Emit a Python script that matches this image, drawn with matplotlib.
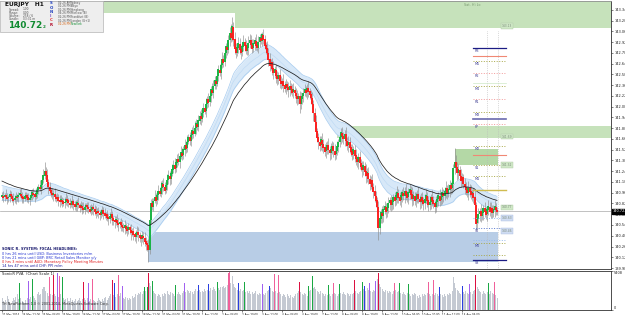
import matplotlib
matplotlib.use('Agg')
import matplotlib.pyplot as plt
from matplotlib.patches import Rectangle
import matplotlib.transforms as mtransforms

# ---------------- DATA ----------------
symbol = "EURJPY"
timeframe = "H1"
base_price = 139.00          # closes below are in 0.01 above base
first_open = 190
wick_unit = 0.015            # price per wick unit

closes = [
    192,190,193,191,189,190,194,192,188,186,189,191,190,193,195,192,190,188,191,193,
    190,187,189,192,196,194,191,195,199,203,201,206,212,218,224,219,210,204,199,196,
    193,195,191,188,190,186,184,187,185,182,184,188,186,183,180,182,185,181,178,180,
    183,180,177,179,176,174,177,180,178,175,172,174,177,175,171,169,172,170,167,170,
    173,169,166,168,164,162,165,168,163,160,158,161,157,155,158,154,152,150,153,149,
    147,151,148,144,146,142,139,143,145,141,138,136,140,137,133,130,128,122,160,182,
    178,185,190,186,193,198,195,202,208,204,199,206,212,218,214,221,226,232,228,235,
    240,236,243,248,245,252,258,254,262,268,264,271,277,273,280,286,282,290,296,292,
    300,306,302,311,318,314,322,330,326,335,342,338,348,356,352,362,370,366,378,386,
    382,395,404,398,412,396,384,378,385,390,383,379,386,392,388,381,385,391,395,389,
    384,390,394,388,385,392,398,394,402,396,388,384,378,370,362,366,358,352,356,348,
    344,349,342,338,341,336,332,337,334,330,335,331,327,330,326,322,318,322,312,318,
    322,326,330,327,332,328,324,320,312,300,288,276,268,262,258,265,260,255,250,254,
    258,252,248,253,257,251,246,250,256,262,268,274,270,266,272,264,258,262,255,250,
    246,252,245,240,236,242,235,230,226,231,224,218,222,214,208,212,204,198,192,186,
    178,150,162,170,166,174,178,172,176,182,186,180,184,190,186,192,196,190,186,192,
    196,192,198,194,190,196,200,194,188,192,186,190,194,188,184,190,186,182,188,192,
    186,180,184,190,186,182,178,184,188,192,186,190,196,192,198,202,196,200,206,202,
    208,228,236,230,222,226,218,212,216,208,204,200,196,202,198,194,196,190,180,156,
    162,168,172,166,170,176,172,168,174,178,172,176,170,174,178,174,172,
]
wick_up = [
    3,4,2,5,3,2,4,3,2,5,3,4,2,3,4,5,3,2,4,3,
    2,4,3,5,3,4,2,5,4,3,6,4,5,6,8,4,5,3,4,2,
    4,3,5,2,4,3,5,4,2,3,4,5,3,2,4,3,5,2,3,4,
    3,5,2,4,3,5,4,2,3,4,3,5,2,4,3,5,3,4,2,3,
    4,3,5,2,4,3,4,5,3,2,4,3,5,4,2,3,4,3,5,2,
    3,4,2,5,3,4,2,3,5,4,3,2,4,3,5,4,3,5,6,4,
    5,3,6,4,3,5,4,6,3,5,4,3,6,5,4,3,5,4,6,3,
    4,5,3,6,4,3,5,4,6,3,5,4,3,5,6,4,3,5,4,6,
    3,5,4,6,3,5,4,3,6,5,4,3,6,4,5,3,6,4,5,3,
    6,4,5,8,9,4,6,5,4,6,5,4,3,6,4,5,4,6,5,4,
    5,4,3,6,4,5,3,4,2,5,4,3,6,4,5,3,4,6,3,5,
    4,3,5,4,3,6,4,5,3,4,5,3,4,6,3,4,5,3,4,6,
    3,4,5,3,4,6,3,4,5,3,4,6,3,4,5,3,6,4,3,5,
    4,6,3,5,4,3,6,4,5,3,4,4,5,3,4,6,3,5,4,3,
    6,3,4,5,3,4,6,3,5,4,3,6,4,5,3,4,6,3,5,4,
    3,5,4,3,6,4,5,3,4,6,3,5,4,3,5,4,6,3,5,4,
    3,5,4,6,3,4,5,3,6,4,3,5,4,6,3,4,5,3,4,6,
    3,4,5,3,6,4,3,5,4,3,6,4,5,3,4,6,3,5,4,3,
    5,4,12,6,4,5,3,6,4,3,5,4,3,6,4,5,3,4,6,3,
    4,5,3,6,4,3,5,4,3,6,4,5,3,4,6,3,2,
]
wick_dn = [
    2,4,3,2,5,3,4,2,3,4,2,5,3,4,2,3,5,4,2,3,
    4,3,5,2,4,3,5,2,4,3,2,4,3,2,3,5,4,6,3,4,
    3,5,4,3,2,5,4,3,5,2,4,3,5,4,3,2,4,5,3,4,
    5,3,4,2,5,3,4,3,5,4,2,3,4,5,3,4,2,5,4,3,
    3,5,2,4,3,5,4,3,6,4,5,3,4,6,3,5,4,3,5,4,
    5,3,4,6,3,5,4,6,3,5,4,6,3,5,4,6,5,11,4,3,
    3,4,2,5,3,4,2,3,5,4,3,2,4,3,5,4,2,3,4,3,
    4,3,5,2,4,3,5,4,3,2,4,5,3,4,2,5,3,4,3,5,
    3,4,2,5,3,4,3,5,2,4,3,5,2,4,3,5,2,4,3,4,
    4,3,5,4,3,6,5,4,3,5,4,6,3,4,5,3,4,6,4,3,
    4,3,5,4,3,5,4,3,5,4,3,5,4,6,5,4,6,5,4,6,
    5,4,6,5,4,6,3,5,4,6,5,4,3,5,4,6,5,4,8,5,
    4,5,3,4,6,5,4,6,5,7,6,5,4,6,5,4,6,5,4,6,
    5,4,6,5,4,6,5,4,3,5,4,6,5,4,6,5,4,6,5,4,
    5,4,6,5,4,6,5,4,6,5,4,6,5,4,6,5,4,6,5,6,
    6,10,5,4,6,5,4,6,5,4,6,5,4,6,5,4,6,5,4,6,
    5,4,6,5,4,6,5,4,6,5,4,6,5,4,6,5,4,6,5,4,
    6,5,4,6,5,4,6,5,4,6,5,4,6,5,4,6,5,4,6,5,
    4,6,5,4,6,5,4,6,5,4,6,5,4,6,5,4,6,5,6,6,
    5,4,6,5,4,6,5,4,6,5,4,6,5,4,6,5,3,
]
# tick volume, percent of panel max
volume_pct = [
    30,22,18,25,35,28,20,15,22,30,26,34,40,28,70,32,24,20,18,26,
    30,75,28,34,80,36,30,26,40,45,38,42,55,60,58,50,44,36,85,40,
    38,90,42,36,95,34,88,40,85,30,26,28,32,24,22,30,26,20,24,28,
    22,26,30,24,28,72,32,26,30,68,24,28,80,26,22,20,24,30,26,22,
    28,24,30,34,26,30,36,40,78,38,70,34,40,90,36,44,62,30,28,34,
    30,26,32,28,36,30,34,40,38,44,40,46,42,50,58,48,60,95,70,62,
    75,50,44,40,36,42,38,34,40,36,44,40,48,42,38,46,44,40,36,65,
    42,46,40,38,44,50,70,46,52,48,44,50,46,42,48,54,50,64,52,46,
    50,46,54,48,52,66,50,56,52,58,54,50,72,56,52,60,58,62,56,60,
    64,95,98,70,88,66,60,56,52,68,50,54,48,52,72,46,50,44,48,42,
    46,40,44,48,42,38,44,40,66,42,38,44,48,52,62,56,50,46,92,48,
    44,90,46,40,36,42,38,34,40,36,32,38,34,30,36,40,44,48,72,46,
    42,38,44,40,36,62,48,52,86,56,60,54,50,46,42,48,44,40,36,42,
    38,64,42,36,40,70,44,40,36,42,66,44,40,46,42,38,44,40,36,42,
    40,44,78,48,44,40,46,50,72,54,62,48,56,52,70,50,46,52,48,74,
    80,95,66,60,54,50,46,52,48,44,50,46,42,48,70,52,46,50,68,44,
    40,46,42,38,44,66,40,36,42,38,44,40,36,32,38,34,40,36,42,38,
    44,72,40,36,42,76,38,44,40,36,58,42,38,34,40,36,42,38,44,40,
    48,85,70,56,52,48,44,40,62,46,42,48,44,40,66,46,42,48,52,90,
    60,54,50,46,42,48,44,40,46,70,42,48,44,40,72,38,30,
]
volume_max = 5408
green_vol_bars = [14, 24, 48, 114, 116, 120, 139, 172, 194, 245, 248, 261, 270, 288, 318, 325, 389]
purple_vol_bars = [21, 44, 69, 96, 146, 208, 294, 299, 374]
pink_vol_bars = [38, 46, 72, 93, 181, 182, 218, 221, 265, 314, 341, 345, 394]
red_vol_bars = [41, 65, 88, 117, 238, 282, 301, 379]
blue_vol_bars = [90, 157, 165, 189, 214, 290, 350, 368]

# moving-average settings and seeds (values just before first bar, price)
dragon_period = 34
trend_period = 50
seed_mid, seed_high, seed_low, seed_trend = 140.96, 141.06, 140.86, 141.12

date_labels = ["21 Mar 2014", "24 Mar 12:00", "25 Mar 04:00", "25 Mar 20:00", "26 Mar 12:00",
               "27 Mar 04:00", "27 Mar 20:00", "28 Mar 12:00", "31 Mar 04:00", "31 Mar 20:00",
               "1 Apr 12:00", "2 Apr 04:00", "2 Apr 20:00", "3 Apr 12:00", "4 Apr 04:00",
               "4 Apr 20:00", "7 Apr 12:00", "8 Apr 04:00", "8 Apr 20:00", "9 Apr 12:00",
               "10 Apr 04:00", "10 Apr 20:00", "11 Apr 12:00", "14 Apr 04:00"]
bars_per_label = 16
price_ticks = [143.340, 143.200, 143.060, 142.920, 142.780, 142.640, 142.500, 142.360, 142.220,
               142.080, 141.940, 141.800, 141.660, 141.520, 141.380, 141.240, 141.100, 140.960,
               140.820, 140.680, 140.540, 140.400, 140.260, 140.120, 139.980]
bid_price = 140.722

# supply / demand zones: start bar, end bar (None = to right edge), top, bottom, kind
zone_start = [81, 186, 268, 362, 117]
zone_end = [None, None, None, 397, 397]
zone_top = [143.50, 143.30, 141.83, 141.53, 140.45]
zone_bot = [143.30, 143.11, 141.67, 141.32, 140.06]
zone_kind = ["supply", "supply", "supply", "supply2", "demand"]

# pivot levels
pivot_price = [142.845, 142.741, 142.676, 142.520, 142.389, 142.350, 142.181, 142.012, 141.921,
               141.855, 141.569, 141.452, 141.321, 141.178, 140.996, 140.631, 140.501, 140.345,
               140.306, 140.149, 140.084]
pivot_name = ["R3", "", "M5", "R2", "", "M4", "R1", "M3", "", "PP", "M2", "", "S1", "M1", "",
              "", "S2", "", "M0", "", "S3"]
pivot_kind = ["main", "hl", "mid", "res", "lt", "mid", "res", "mid", "main2", "res", "mid", "hl",
              "mid", "mid", "khaki", "sup", "sup2", "sup", "mid", "mid", "main"]
pivot_start_bar, pivot_end_bar = 377, 403
day_sep_bars = [388, 397]

tags_price = [143.13, 141.69, 141.32, 140.77, 140.63, 140.46]
tags_kind = ["g", "g", "g", "g", "b", "b"]

headlines = ["SONIC R. SYSTEM: FXCAL HEADLINES:",
             "0 hrs 26 mins until USD: Business Inventories m/m",
             "0 hrs 21 mins until GBP: BRC Retail Sales Monitor y/y",
             "0 hrs 3 mins until AUD: Monetary Policy Meeting Minutes",
             "14 hrs 47 mins until CHF: PPI m/m"]
headline_colors = ["#1a1a6e", "#2030d0", "#2030d0", "#e01818", "#1a1a9e"]

info_labels = ["Spread:", "Range:", "Volume:", "Candle:"]
info_values = ["1.00", "0.00", "258 / 6", "03:31 m"]
sonic_letters = ["S", "O", "N", "I", "C", "R"]
sonic_colors = ["#2040c0", "#2040c0", "#2040c0", "#8050c0", "#e03030", "#b00020"]
city_times = ["02:26 AM", "01:26 PM", "01:26 PM", "04:26 PM", "02:26 PM", "01:26 PM", "02:26 PM"]
city_names = ["Sydney", "Tokyo", "Hongkong", "Moscow (B)", "Frankfurt (B)", "London (G+1)", "NewYork"]

# ---------------- DERIVED ----------------
n = len(closes)
P = lambda v: base_price + v / 100.0
o_p = [P(first_open)] + [P(c) for c in closes[:-1]]
c_p = [P(c) for c in closes]
h_p = [max(o, c) + u * wick_unit for o, c, u in zip(o_p, c_p, wick_up)]
l_p = [min(o, c) - d * wick_unit for o, c, d in zip(o_p, c_p, wick_dn)]


def ema(vals, period, seed):
    a = 2.0 / (period + 1)
    e, out = seed, []
    for v in vals:
        e = e + a * (v - e)
        out.append(e)
    return out


ema_c = ema(c_p, dragon_period, seed_mid)
ema_h = ema(h_p, dragon_period, seed_high)
ema_l = ema(l_p, dragon_period, seed_low)
ema_t = ema(c_p, trend_period, seed_trend)

# ---------------- FIGURE ----------------
W, H = 625, 315
fig = plt.figure(figsize=(6.25, 3.15), dpi=100)
fig.patch.set_facecolor("white")
plt.rcParams['font.family'] = ['DejaVu Sans']

x_left, x_right = -1.6, 487.2
ax = fig.add_axes([0, 1 - 269 / H, 611 / W, 268 / H])
axv = fig.add_axes([0, 1 - 310 / H, 611 / W, 39 / H])
for a in (ax, axv):
    a.set_facecolor("white")
    a.set_xlim(x_left, x_right)
    a.spines["left"].set_visible(False)
    for s in ("right", "top", "bottom"):
        a.spines[s].set_linewidth(0.6)
        a.spines[s].set_color("#303030")
ax.spines["top"].set_color("#909090")
ax.set_ylim(139.967, 143.457)

# zones
zone_colors = {"supply": "#c6e2bb", "supply2": "#b4d8a6", "demand": "#b8cde6"}
for s, e, t, b, k in zip(zone_start, zone_end, zone_top, zone_bot, zone_kind):
    e = x_right if e is None else e
    ax.add_patch(Rectangle((s, b), e - s, t - b, facecolor=zone_colors[k],
                           edgecolor="none", zorder=1))

# dragon band & trend line
xs = list(range(n))
ax.fill_between(xs, ema_l, ema_h, color="#d7e8f8", zorder=2, lw=0)
ax.plot(xs, ema_h, color="#a6cbef", lw=0.5, zorder=2.5)
ax.plot(xs, ema_l, color="#a6cbef", lw=0.5, zorder=2.5)
ax.plot(xs, ema_c, color="#bcd8f3", lw=0.4, zorder=2.5)
ax.plot(xs, ema_t, color="#202020", lw=0.55, zorder=4)

# bid line
ax.axhline(bid_price, color="#a8a8a8", lw=0.5, zorder=1.5)

# candles
ax.vlines(xs, l_p, h_p, color="#8e8e8e", lw=0.45, zorder=3)
up_x = [i for i in xs if c_p[i] >= o_p[i]]
dn_x = [i for i in xs if c_p[i] < o_p[i]]
ax.vlines(up_x, [o_p[i] for i in up_x], [c_p[i] + 0.005 for i in up_x],
          color="#13b440", lw=1.35, zorder=3.5)
ax.vlines(dn_x, [c_p[i] - 0.005 for i in dn_x], [o_p[i] for i in dn_x],
          color="#ff1a1a", lw=1.35, zorder=3.5)

# pivots
pivot_style = {"main": ("#1c1c84", "-", 0.9), "main2": ("#6a6aae", "-", 1.2),
               "hl": ("#f08874", "-", 0.8), "mid": ("#a8a848", ":", 0.7),
               "res": ("#f29a9a", ":", 0.7), "lt": ("#cfe9c6", "-", 0.5),
               "khaki": ("#d0bc50", "-", 1.0), "sup": ("#96bbec", ":", 0.7),
               "sup2": ("#5a7ad0", ":", 0.7)}
for pr, nm, k in zip(pivot_price, pivot_name, pivot_kind):
    col, ls, lw = pivot_style[k]
    ax.plot([pivot_start_bar, pivot_end_bar], [pr, pr], color=col, ls=ls, lw=lw, zorder=5)
    if nm:
        ax.text(pivot_start_bar + 1, pr - 0.012, nm, fontsize=2.4, color="#3a3a90",
                va="top", ha="left", zorder=6)
for b in day_sep_bars:
    ax.plot([b, b], [139.967, 143.07], color="#b8b8b8", ls=":", lw=0.5, zorder=1.6)

# small price tags at right of zones
for pr, k in zip(tags_price, tags_kind):
    fc = "#cfe8c6" if k == "g" else "#cfdcf2"
    ax.text(400, pr, f"{pr:.2f}", fontsize=2.2, color="#7a8a7a", va="center", ha="left",
            bbox=dict(boxstyle="square,pad=0.25", fc=fc, ec="#b0c8a8" if k == "g" else "#aabde0", lw=0.3),
            zorder=6)
ax.text(370, 143.40, "Sat. Hi Lo", fontsize=2.4, color="#7a9a70", va="center", ha="left", zorder=6)

# axes ticks main
ax.yaxis.tick_right()
ax.set_yticks(price_ticks)
ax.set_yticklabels([f"{t:.3f}" for t in price_ticks])
ax.tick_params(axis="y", labelsize=2.5, length=1.5, width=0.4, pad=0.8, colors="#202020")
ax.set_xticks([])
trans = mtransforms.blended_transform_factory(ax.transAxes, ax.transData)
ax.text(1.003, bid_price, f"{bid_price:.3f}", transform=trans, fontsize=2.5, color="white",
        va="center", ha="left", bbox=dict(boxstyle="square,pad=0.15", fc="black", ec="black"),
        zorder=10, clip_on=False)

# volume panel
vol = [v * volume_max / 100.0 for v in volume_pct]
vcol = ["#c4c9d2"] * n
for lst, c in ((green_vol_bars, "#1aa843"), (purple_vol_bars, "#a260f0"), (pink_vol_bars, "#f0609a"),
               (red_vol_bars, "#dc1040"), (blue_vol_bars, "#2a3ee0")):
    for i in lst:
        vcol[i] = c
axv.bar(xs, vol, width=0.8, color=vcol, lw=0, align="center")
axv.set_ylim(0, volume_max)
axv.yaxis.tick_right()
axv.set_yticks([0, volume_max])
axv.set_yticklabels(["0", str(volume_max)])
axv.tick_params(axis="y", labelsize=2.5, length=1.5, width=0.4, pad=0.8, colors="#202020")
axv.set_xticks([k * bars_per_label for k in range(len(date_labels))])
axv.set_xticklabels(date_labels, ha="left")
axv.tick_params(axis="x", labelsize=2.0, length=1.5, width=0.4, pad=0.5, colors="#202020")
for lab in axv.get_yticklabels():
    lab.set_va("top" if lab.get_text() == str(volume_max) else "bottom")

# ---------------- TEXT OVERLAYS ----------------
def ptext(x, y, s, **kw):
    fig.text(x / W, 1 - y / H, s, va="center", ha="left", **kw)

# info panel
fig.patches.append(Rectangle((0, 1 - 32 / H), 103 / W, 31 / H, transform=fig.transFigure,
                             facecolor="#eeeeee", edgecolor="#b4b4b4", lw=0.5, zorder=5))
ptext(5, 4.5, f"{symbol}   {timeframe}", fontsize=4.2, fontweight="bold", color="#101010", zorder=6)
for k, (lb, vl) in enumerate(zip(info_labels, info_values)):
    ptext(9, 9.5 + 3.3 * k, lb, fontsize=2.1, color="#505050", zorder=6)
    ptext(23, 9.5 + 3.3 * k, vl, fontsize=2.1, color="#505050", zorder=6)
ptext(8, 26, f"{bid_price:.2f}", fontsize=6.4, fontweight="bold", color="#108a30", zorder=6)
ptext(43, 27.5, "2", fontsize=3.0, fontweight="bold", color="#108a30", zorder=6)
for k, (ch, c) in enumerate(zip(sonic_letters, sonic_colors)):
    ptext(50, 3.5 + 4.2 * k, ch, fontsize=2.8, fontweight="bold", color=c, zorder=6)
for k, (tm, cn) in enumerate(zip(city_times, city_names)):
    last = k == len(city_times) - 1
    ptext(58, 2.8 + 3.55 * k, tm, fontsize=2.0, color="#d06010" if last else "#505050", zorder=6)
    ptext(71, 2.8 + 3.55 * k, cn, fontsize=2.0, color="#108a30" if last else "#505050", zorder=6)

# headlines
for k, (s, c) in enumerate(zip(headlines, headline_colors)):
    ptext(2, 249.5 + 4.1 * k, s, fontsize=2.5, color=c,
          fontweight="bold" if k == 0 else "normal", zorder=6)

ptext(2, 274, "SonicR PVA  (Chart Scale 1)", fontsize=2.7, color="#202020", zorder=6)
ptext(2, 303.5, "TH NewPlatform 1.0 \u00a9 2001-2014, MetaQuotes Software Corp.", fontsize=2.4,
      color="#303030", zorder=6)

fig.savefig("out.png", dpi=100, facecolor="white")
